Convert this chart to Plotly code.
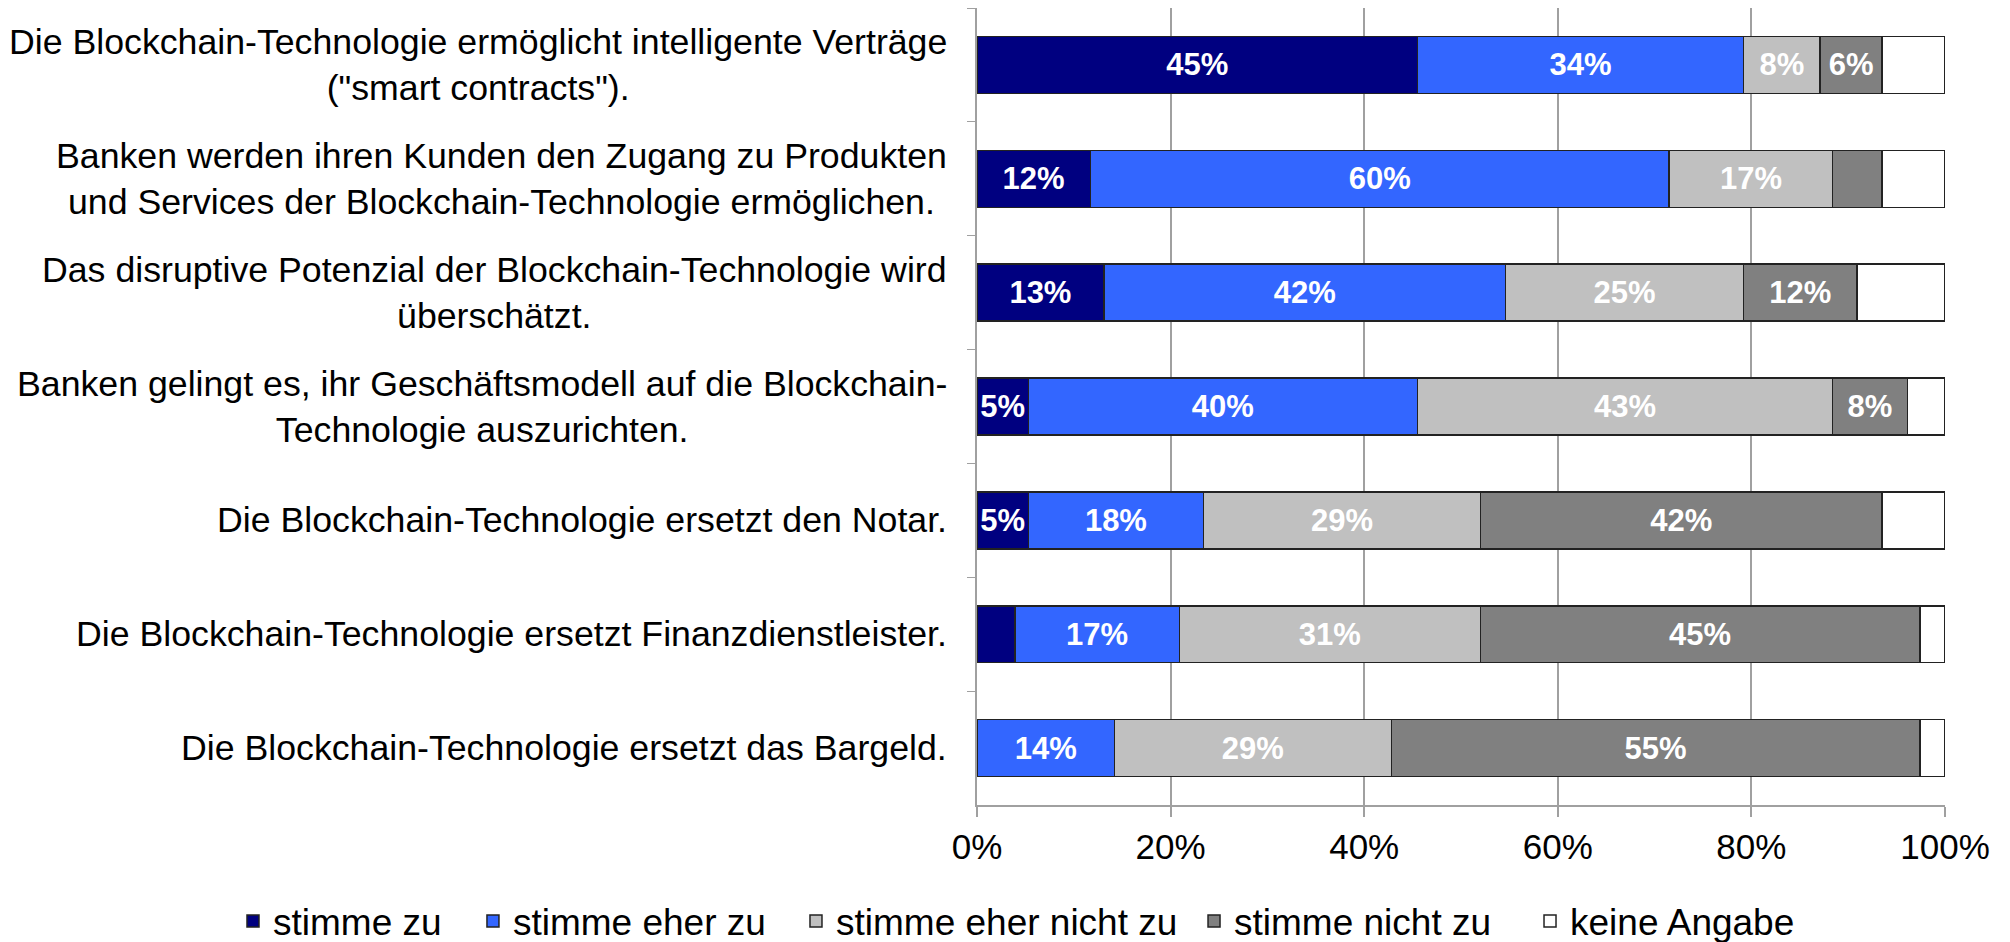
import plotly.graph_objects as go

categories = [
    'Die Blockchain-Technologie ermöglicht intelligente Verträge<br>("smart contracts").',
    'Banken werden ihren Kunden den Zugang zu Produkten<br>und Services der Blockchain-Technologie ermöglichen.',
    'Das disruptive Potenzial der Blockchain-Technologie wird<br>überschätzt.',
    'Banken gelingt es, ihr Geschäftsmodell auf die Blockchain-<br>Technologie auszurichten.',
    'Die Blockchain-Technologie ersetzt den Notar.',
    'Die Blockchain-Technologie ersetzt Finanzdienstleister.',
    'Die Blockchain-Technologie ersetzt das Bargeld.',
]
series_names = ["stimme zu", "stimme eher zu", "stimme eher nicht zu", "stimme nicht zu", "keine Angabe"]

stimme_zu = [45.5, 11.7, 13.1, 5.3, 5.3, 3.9, 0.0]
stimme_eher_zu = [33.7, 59.8, 41.5, 40.2, 18.1, 17.0, 14.2]
stimme_eher_nicht_zu = [7.9, 16.9, 24.6, 42.9, 28.6, 31.1, 28.6]
stimme_nicht_zu = [6.4, 5.1, 11.7, 7.7, 41.5, 45.4, 54.6]
keine_angabe = [6.5, 6.5, 9.1, 3.9, 6.5, 2.6, 2.6]

labels_zu = ["45%", "12%", "13%", "5%", "5%", "", ""]
labels_eher_zu = ["34%", "60%", "42%", "40%", "18%", "17%", "14%"]
labels_eher_nicht = ["8%", "17%", "25%", "43%", "29%", "31%", "29%"]
labels_nicht = ["6%", "", "12%", "8%", "42%", "45%", "55%"]
labels_keine = ["", "", "", "", "", "", ""]

x_ticks = [0, 20, 40, 60, 80, 100]
x_tick_labels = ["0%", "20%", "40%", "60%", "80%", "100%"]

colors = ["#000080", "#3366FF", "#C0C0C0", "#808080", "#FFFFFF"]
values = [stimme_zu, stimme_eher_zu, stimme_eher_nicht_zu, stimme_nicht_zu, keine_angabe]
texts = [labels_zu, labels_eher_zu, labels_eher_nicht, labels_nicht, labels_keine]

# horizontal placement of each legend entry (paper coordinates)
legend_x = [-0.7686, -0.5207, -0.1870, 0.2242, 0.5713]

FONT = "Liberation Sans, Arial, sans-serif"

fig = go.Figure()
legend_ids = ["legend"] + ["legend%d" % (i + 2) for i in range(len(series_names) - 1)]
for name, vals, txt, col, lid in zip(series_names, values, texts, colors, legend_ids):
    fig.add_trace(go.Bar(
        y=categories, x=vals, name=name, orientation="h", legend=lid,
        marker=dict(color=col, line=dict(color="#222222", width=1.5)),
        text=txt, texttemplate="%{text}", textposition="inside",
        insidetextanchor="middle", textangle=0, constraintext="none",
        textfont=dict(family=FONT, size=31, color="white", weight="bold"),
        hoverinfo="skip",
    ))

for cat in categories:
    fig.add_annotation(
        x=0, xref="paper", y=cat, yref="y", xanchor="right", yanchor="middle",
        xshift=-28, text=cat, showarrow=False, align="center",
        font=dict(family=FONT, size=35.7, color="black"),
    )

legend_layout = {}
for lid, lx in zip(legend_ids, legend_x):
    legend_layout[lid] = dict(
        orientation="h", xref="paper", yref="paper",
        x=lx, xanchor="left", y=-0.146, yanchor="middle",
        font=dict(family=FONT, size=37), itemwidth=30, bgcolor="rgba(0,0,0,0)",
    )

# page body has an 8px margin: figure is drawn 8px smaller and offset
fig.update_layout(
    barmode="stack", bargap=0.5,
    width=2002, height=934,
    margin=dict(l=969, r=65, t=0, b=137, autoexpand=False),
    plot_bgcolor="white", paper_bgcolor="white",
    font=dict(family=FONT, size=35, color="black"),
    showlegend=True,
    **legend_layout,
)
fig.update_xaxes(
    range=[0, 100], tickvals=x_ticks, ticktext=x_tick_labels,
    showgrid=True, gridcolor="#A0A0A0", gridwidth=1.5,
    showline=True, linecolor="#A0A0A0", linewidth=2,
    ticks="outside", ticklen=10, tickcolor="#A0A0A0", tickwidth=1.5,
    tickfont=dict(family=FONT, size=35), zeroline=False, fixedrange=True,
)
fig.update_yaxes(
    autorange="reversed", showticklabels=False, showgrid=False,
    showline=True, linecolor="#A0A0A0", linewidth=1.5,
    ticks="outside", ticklen=8, tickcolor="#A0A0A0", tickson="boundaries",
    fixedrange=True,
)

fig.write_html("out.html")
